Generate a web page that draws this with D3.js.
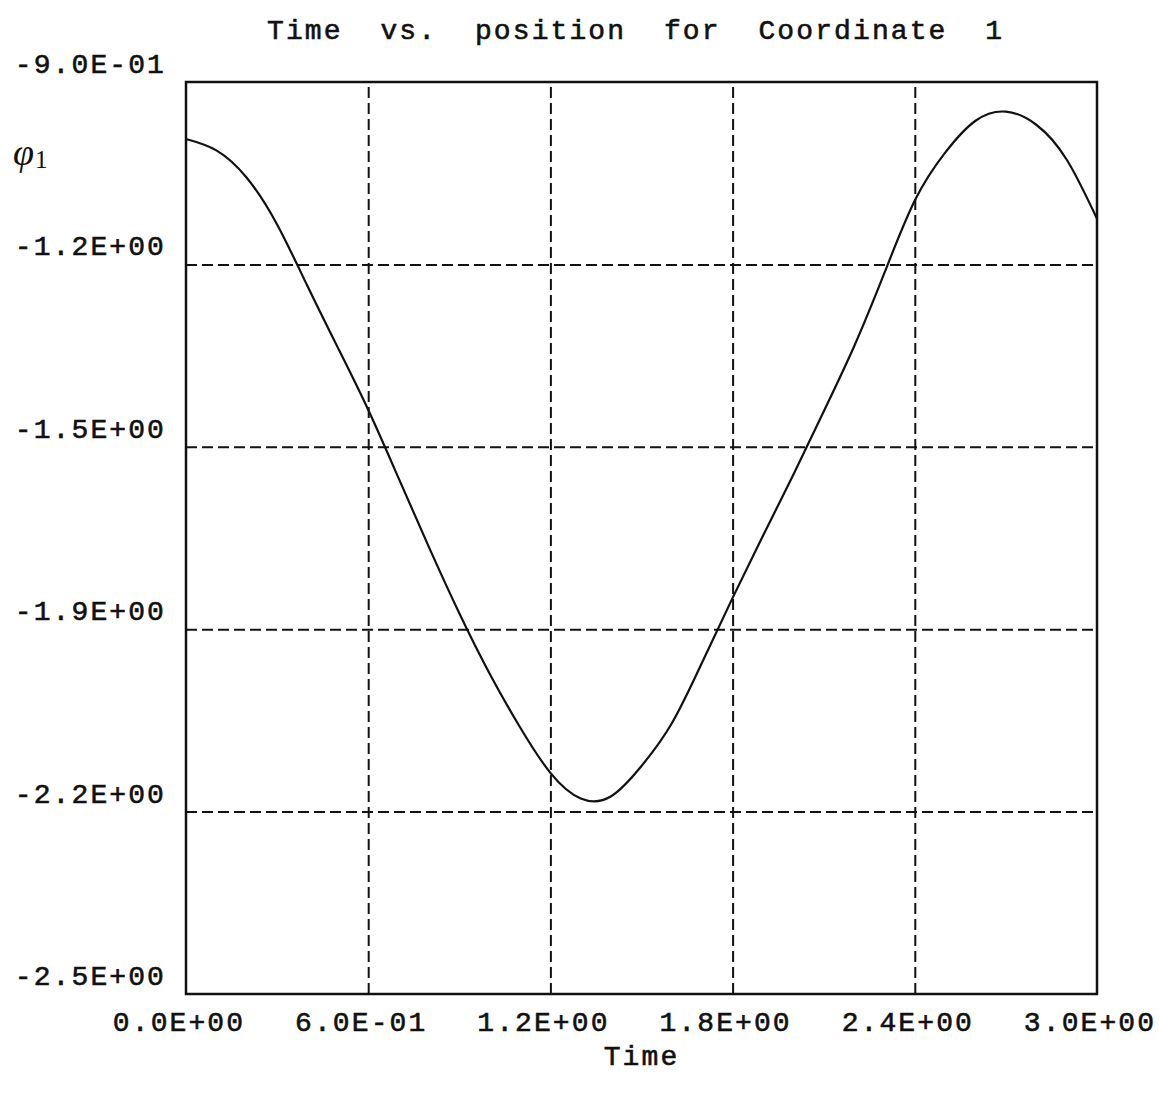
<!DOCTYPE html>
<html>
<head>
<meta charset="utf-8">
<script src="https://cdn.jsdelivr.net/npm/d3@7"></script>
<style>
  html, body { margin: 0; padding: 0; background: #fff; }
  svg { display: block; }
  .lbl { font-family: "Liberation Mono", "Courier New", monospace; font-size: 28px; letter-spacing: 2.1px; fill: #111; stroke: #111; stroke-width: 0.6px; }
</style>
</head>
<body>
<svg id="chart" width="1159" height="1097"></svg>
<script>
// ---- data ----
const timeValues = [0.0, 0.1, 0.2, 0.3, 0.4, 0.5, 0.6, 0.7, 0.8, 0.9, 1.0, 1.1, 1.2, 1.3, 1.4, 1.5, 1.6, 1.7, 1.8, 1.9, 2.0, 2.1, 2.2, 2.3, 2.4, 2.5, 2.6, 2.7, 2.8, 2.9, 3.0];
const phi1Values = [-1.000, -1.020, -1.068, -1.150, -1.258, -1.366, -1.475, -1.595, -1.716, -1.832, -1.938, -2.032, -2.112, -2.157, -2.153, -2.100, -2.025, -1.918, -1.805, -1.696, -1.589, -1.478, -1.364, -1.235, -1.108, -1.024, -0.968, -0.952, -0.975, -1.036, -1.140];
const xTickValues = [0, 0.6, 1.2, 1.8, 2.4, 3.0];
const xTickLabels = ["0.0E+00", "6.0E-01", "1.2E+00", "1.8E+00", "2.4E+00", "3.0E+00"];
const yTickValues = [-0.9, -1.22, -1.54, -1.86, -2.18, -2.5];
const yTickLabels = ["-9.0E-01", "-1.2E+00", "-1.5E+00", "-1.9E+00", "-2.2E+00", "-2.5E+00"];
const titleText = "Time  vs.  position  for  Coordinate  1";
const xAxisTitle = "Time";

(function () {
// ---- layout ----
const pL = 186, pR = 1097, pT = 82, pB = 994;
const svg = d3.select("#chart");
const x = d3.scaleLinear().domain([0, 3]).range([pL, pR]);
const y = d3.scaleLinear().domain([-2.5, -0.9]).range([pB, pT]);

// grid lines (dashed)
const gridX = d3.axisBottom(x).tickValues(xTickValues.slice(1, -1)).tickSize(-(pB - pT)).tickFormat("");
const gx = svg.append("g").attr("transform", `translate(0,${pB})`).call(gridX);
gx.select(".domain").remove();
gx.selectAll("line").attr("stroke", "#111").attr("stroke-width", 2).attr("stroke-dasharray", "11,5");

const gridY = d3.axisLeft(y).tickValues(yTickValues.slice(1, -1)).tickSize(-(pR - pL)).tickFormat("");
const gy = svg.append("g").attr("transform", `translate(${pL},0)`).call(gridY);
gy.select(".domain").remove();
gy.selectAll("line").attr("stroke", "#111").attr("stroke-width", 2).attr("stroke-dasharray", "11,5");

// frame
svg.append("rect").attr("x", pL).attr("y", pT).attr("width", pR - pL).attr("height", pB - pT)
  .attr("fill", "none").attr("stroke", "#111").attr("stroke-width", 2.5);

// tick labels
svg.append("g").selectAll("text").data(yTickValues).join("text")
  .attr("class", "lbl").attr("text-anchor", "end")
  .attr("x", pL - 20).attr("y", d => y(d) - 9)
  .text((d, i) => yTickLabels[i]);

svg.append("g").selectAll("text").data(xTickValues).join("text")
  .attr("class", "lbl").attr("text-anchor", "middle")
  .attr("x", d => x(d) - 7).attr("y", 1031)
  .text((d, i) => xTickLabels[i]);

// titles
svg.append("text").attr("class", "lbl").attr("x", 267).attr("y", 39)
  .attr("xml:space", "preserve").style("white-space", "pre").text(titleText);
svg.append("text").attr("class", "lbl").attr("text-anchor", "middle").attr("x", (pL + pR) / 2).attr("y", 1065).text(xAxisTitle);

// y axis symbol phi_1
const phi = svg.append("text").attr("x", 13).attr("y", 165)
  .style("font-family", "'Liberation Serif', 'Times New Roman', serif").style("font-size", "38px").attr("fill", "#111");
phi.append("tspan").style("font-style", "italic").text("φ");
phi.append("tspan").attr("dy", 3).attr("dx", 1).style("font-size", "25px").text("1");

// curve
const pts = timeValues.map((t, i) => [t, phi1Values[i]]);
svg.append("path").datum(pts)
  .attr("fill", "none").attr("stroke", "#111").attr("stroke-width", 2.2)
  .attr("d", d3.line().x(d => x(d[0])).y(d => y(d[1])).curve(d3.curveNatural));
})();
</script>
</body>
</html>
